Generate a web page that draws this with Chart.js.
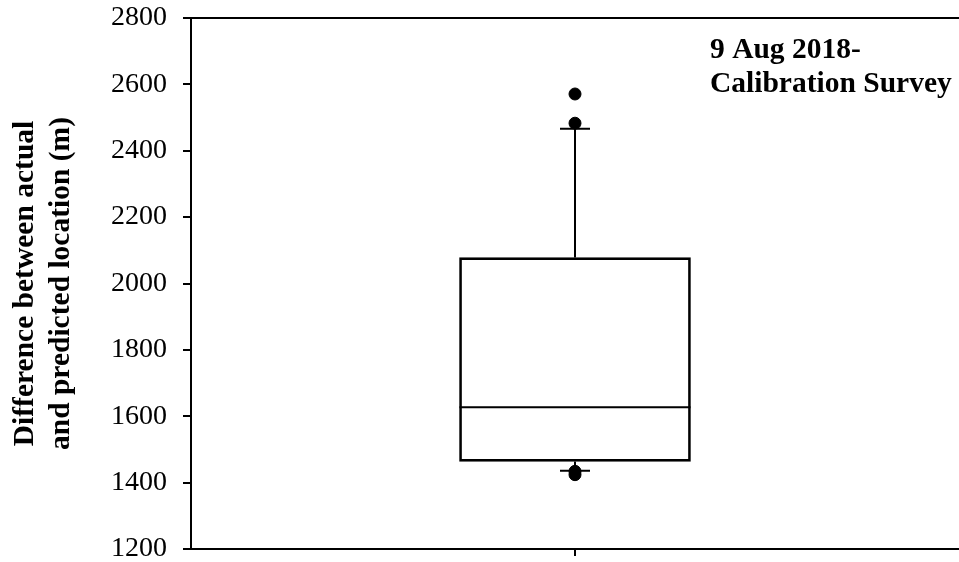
<!DOCTYPE html>
<html>
<head>
<meta charset="utf-8">
<script src="https://cdn.jsdelivr.net/npm/chart.js@4.4.1/dist/chart.umd.min.js"></script>
<style>
  body { margin: 0; background: #fff; }
  #wrap { width: 959px; height: 562px; position: relative; }
</style>
</head>
<body>
<div id="wrap"><canvas id="boxChart"></canvas></div>
<script>
// Box plot values (m)
const categories = ['Calibration Survey'];
const q1 = [1464];
const median = [1627];
const q3 = [2078];
const whiskerLow = [1436];
const whiskerHigh = [2466];
const outliers = [[2571, 2483, 1434, 1424]];

const yTicks = [1200, 1400, 1600, 1800, 2000, 2200, 2400, 2600, 2800];
const yTitle = ['Difference between actual', 'and predicted location (m)'];
const noteLines = ['9 Aug 2018-', 'Calibration Survey'];

const serif = "'Liberation Serif', 'Times New Roman', serif";

// whiskers, caps and median drawn through the y scale
const boxExtras = {
  id: 'boxExtras',
  afterDatasetsDraw(chart) {
    const ctx = chart.ctx;
    const y = chart.scales.y;
    const area = chart.chartArea;
    const bars = chart.getDatasetMeta(0).data;
    ctx.save();
    ctx.strokeStyle = '#000';
    ctx.lineWidth = 2;

    // top frame line
    ctx.beginPath();
    ctx.moveTo(area.left, area.top);
    ctx.lineTo(area.right, area.top);
    ctx.stroke();

    bars.forEach((bar, i) => {
      const cx = bar.x;
      const half = bar.width / 2;
      const capHalf = 15;
      ctx.beginPath();
      // median
      ctx.moveTo(cx - half, y.getPixelForValue(median[i]));
      ctx.lineTo(cx + half, y.getPixelForValue(median[i]));
      // upper whisker
      ctx.moveTo(cx, y.getPixelForValue(q3[i]));
      ctx.lineTo(cx, y.getPixelForValue(whiskerHigh[i]));
      ctx.moveTo(cx - capHalf, y.getPixelForValue(whiskerHigh[i]));
      ctx.lineTo(cx + capHalf, y.getPixelForValue(whiskerHigh[i]));
      // lower whisker
      ctx.moveTo(cx, y.getPixelForValue(q1[i]));
      ctx.lineTo(cx, y.getPixelForValue(whiskerLow[i]));
      ctx.moveTo(cx - capHalf, y.getPixelForValue(whiskerLow[i]));
      ctx.lineTo(cx + capHalf, y.getPixelForValue(whiskerLow[i]));
      ctx.stroke();
    });

    // annotation text
    ctx.fillStyle = '#000';
    ctx.font = 'bold 29.5px ' + serif;
    ctx.textAlign = 'left';
    ctx.textBaseline = 'alphabetic';
    ctx.fillText(noteLines[0], 710, 58);
    ctx.fillText(noteLines[1], 710, 92);
    ctx.restore();
  }
};

const outlierPoints = [];
categories.forEach((c, i) => {
  outlierPoints.push(...outliers[i].map(v => ({ x: c, y: v })));
});

const ctx = document.getElementById('boxChart').getContext('2d');
new Chart(ctx, {
  type: 'bar',
  data: {
    labels: categories,
    datasets: [
      {
        data: categories.map((c, i) => [q1[i], q3[i]]),
        backgroundColor: 'rgba(255,255,255,0)',
        borderColor: '#000',
        borderWidth: 2,
        borderSkipped: false,
        barThickness: 231,
      },
      {
        type: 'line',
        data: outlierPoints,
        showLine: false,
        pointRadius: 6,
        pointBorderWidth: 1,
        pointBackgroundColor: '#000',
        pointBorderColor: '#000',
      },
    ],
  },
  options: {
    responsive: true,
    maintainAspectRatio: false,
    animation: false,
    layout: { autoPadding: false, padding: { top: 18, right: 0, left: 0, bottom: 0 } },
    plugins: {
      legend: { display: false },
      tooltip: { enabled: false },
    },
    scales: {
      x: {
        afterFit(scale) {
          scale.height = 13;
          scale.paddingLeft = 0;
          scale.paddingRight = 0;
        },
        ticks: { display: false },
        grid: {
          offset: false,
          drawOnChartArea: false,
          drawTicks: true,
          tickLength: 7,
          color: '#000',
          lineWidth: 2,
        },
        border: { display: true, color: '#000', width: 2 },
      },
      y: {
        min: 1200,
        max: 2800,
        afterFit(scale) {
          scale.width = 191;
          scale.paddingTop = 0;
          scale.paddingBottom = 0;
        },
        afterBuildTicks(scale) { scale.ticks = yTicks.map(v => ({ value: v })); },
        ticks: {
          padding: 16,
          color: '#000',
          font: { family: serif, size: 28 },
          callback: (v) => String(v),
        },
        grid: {
          drawOnChartArea: false,
          drawTicks: true,
          tickLength: 8,
          color: '#000',
          lineWidth: 2,
        },
        border: { display: true, color: '#000', width: 2 },
        title: {
          display: true,
          text: yTitle,
          color: '#000',
          padding: { top: 7, bottom: 0 },
          font: { family: serif, size: 29.5, weight: 'bold', lineHeight: 36 / 29.5 },
        },
      },
    },
  },
  plugins: [boxExtras],
});
</script>
</body>
</html>
